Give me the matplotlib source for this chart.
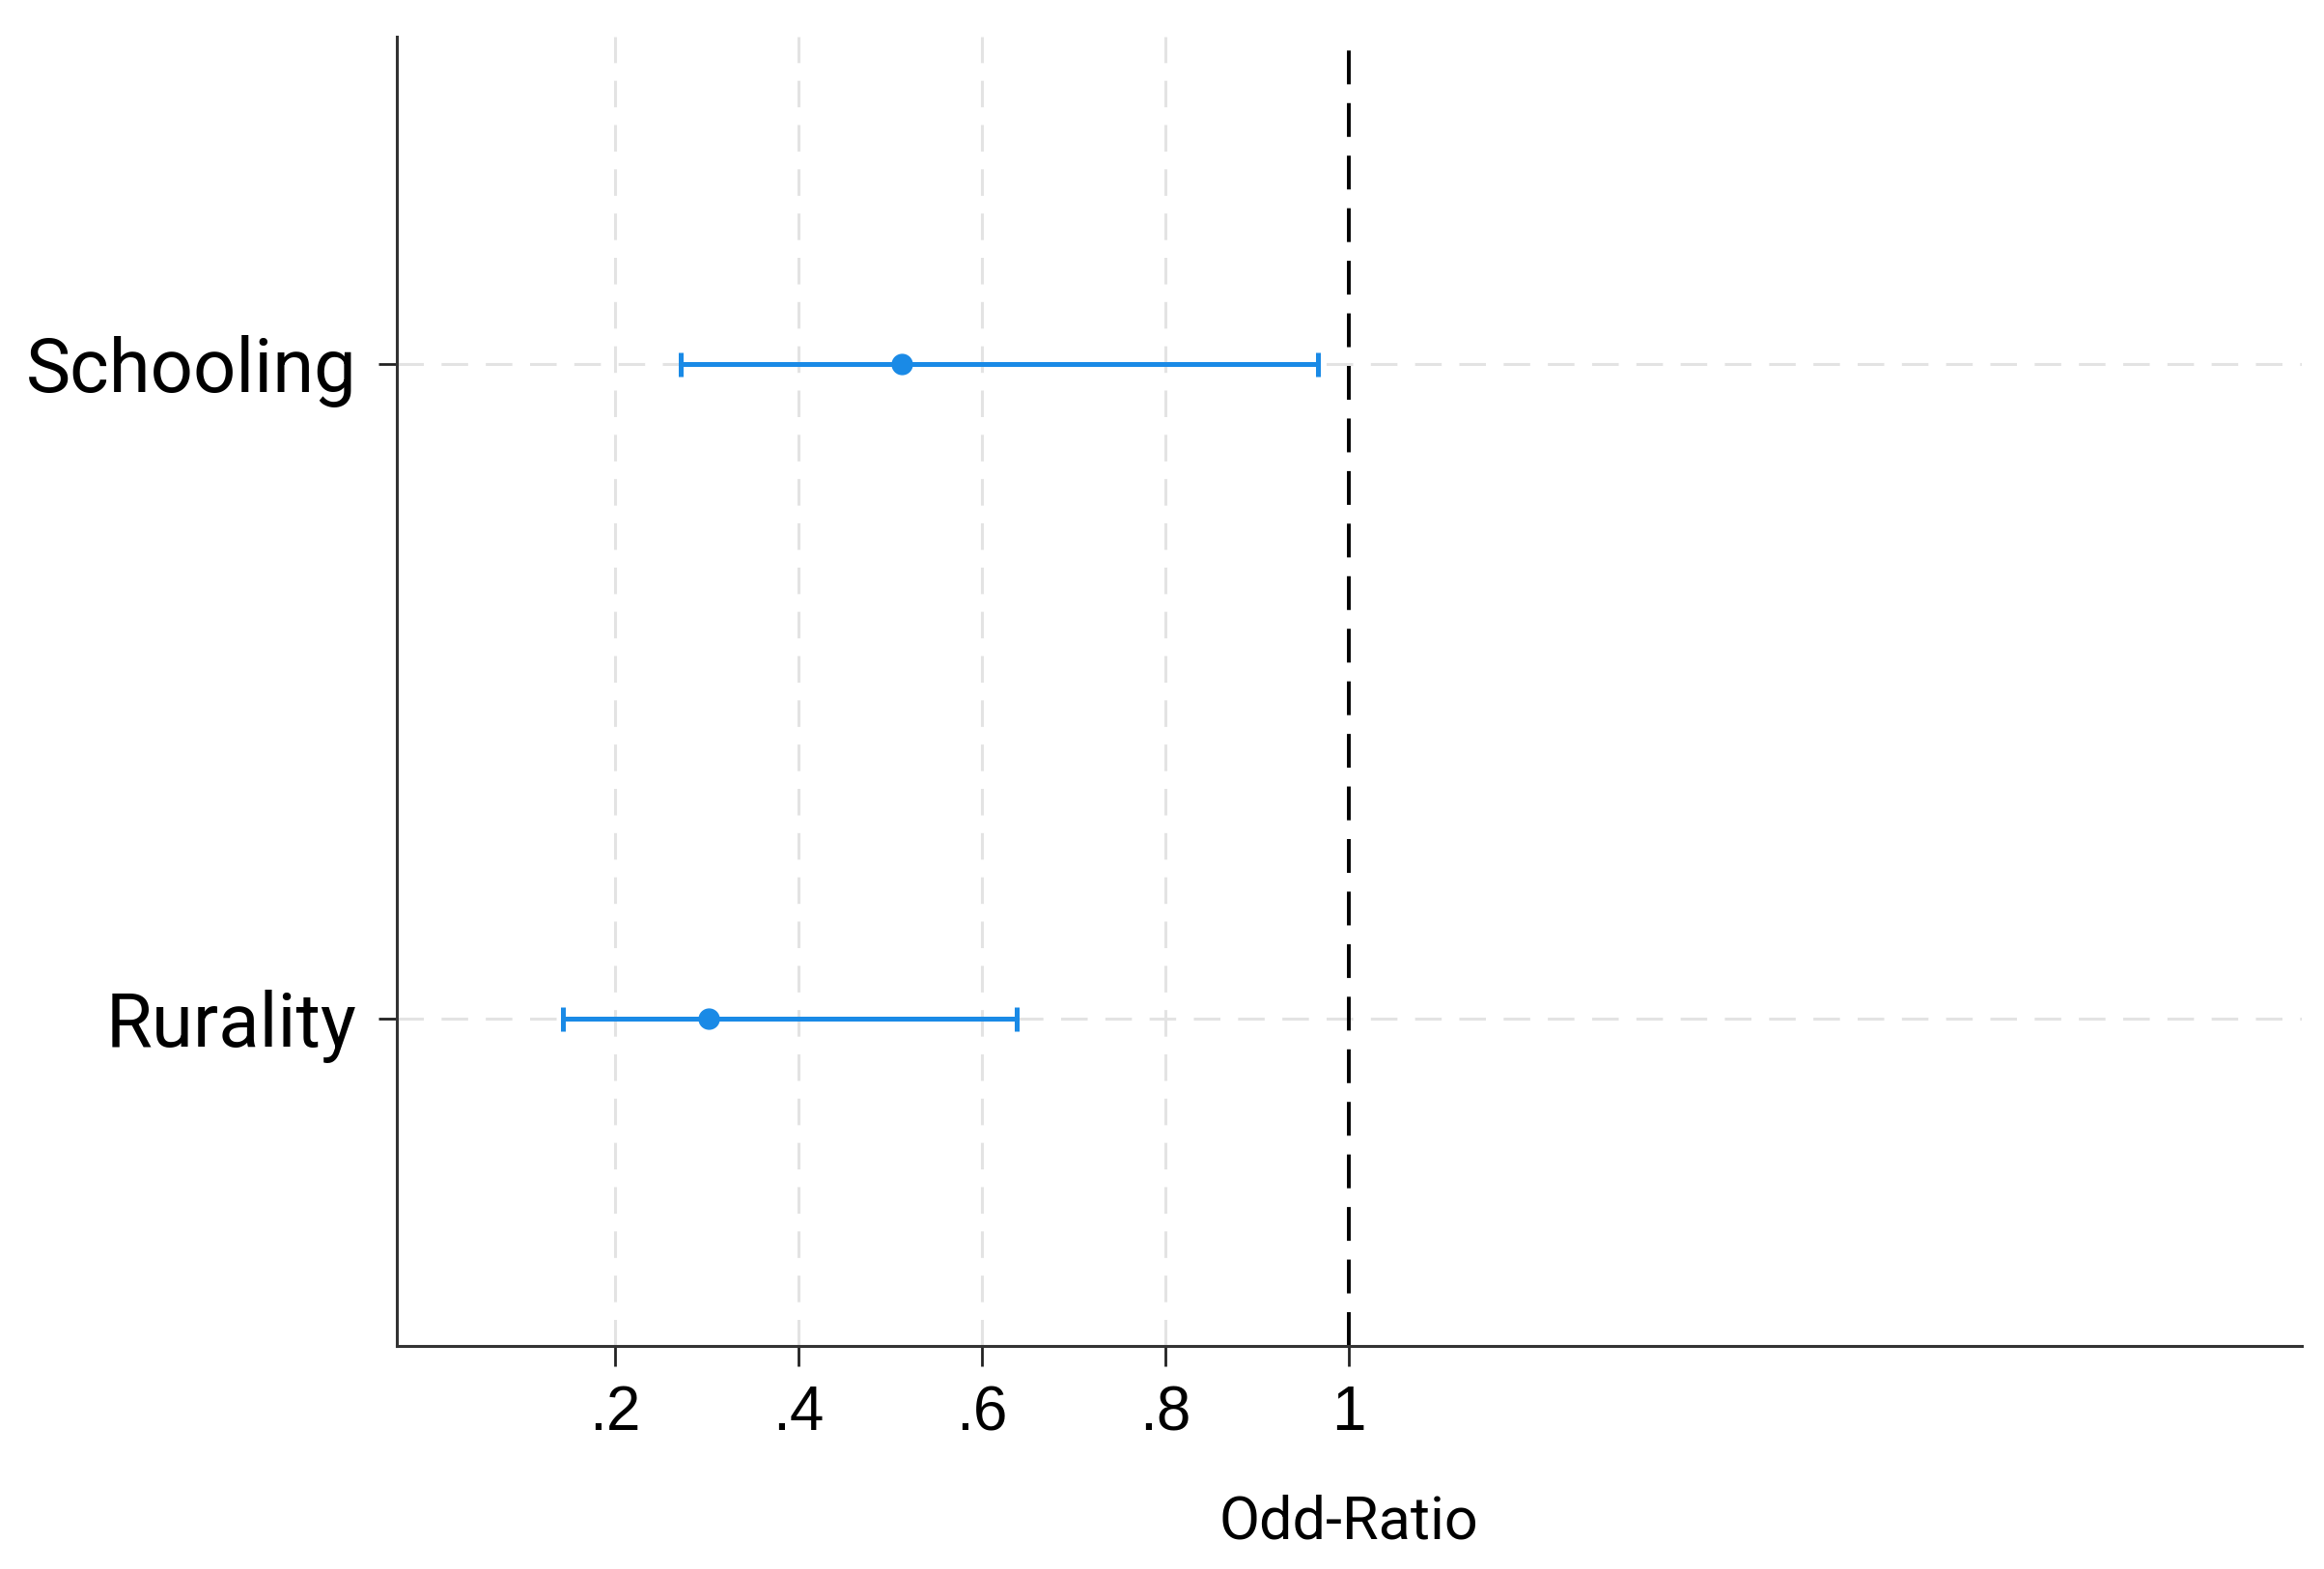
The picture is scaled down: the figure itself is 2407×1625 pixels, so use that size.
import matplotlib
matplotlib.use("Agg")
import matplotlib.pyplot as plt

labels = ["Rurality", "Schooling"]
odds = [0.302, 0.512]
ci_low = [0.143, 0.271]
ci_high = [0.638, 0.966]
xticks = [0.2, 0.4, 0.6, 0.8, 1.0]
xticklabels = [".2", ".4", ".6", ".8", "1"]

BLUE = "#1a8ae6"
GRID = "#e3e3e3"

fig = plt.figure(figsize=(24.07, 16.25), dpi=100, facecolor="white")
ax = fig.add_axes([0.1708, 0.1422, 0.8196, 0.8344])

ypos = [1, 2]
for x in xticks[:-1]:
    ax.axvline(x, color=GRID, lw=2.2, ls=(0, (9, 6)), zorder=0)
for y in ypos:
    ax.axhline(y, color=GRID, lw=2.2, ls=(0, (9, 6)), zorder=0)
ax.axvline(1.0, color="black", lw=2.8, ls=(0, (9, 5)), zorder=1)

# point estimate with 95% CI
xerr = [[o - l for o, l in zip(odds, ci_low)], [h - o for o, h in zip(odds, ci_high)]]
ax.errorbar(odds, ypos, xerr=xerr, fmt="o", color=BLUE, ms=15, elinewidth=3.6,
            capsize=9, capthick=3.6, zorder=3)

ax.set_xlim(-0.038, 2.039)
ax.set_ylim(0.5, 2.5)
ax.set_xticks(xticks)
ax.set_xticklabels(xticklabels, fontsize=46, family="Liberation Sans")
ax.set_yticks(ypos)
ax.set_yticklabels(labels, fontsize=56, family="Roboto")
ax.tick_params(axis="x", length=15, width=2, pad=14, colors="#222222", labelcolor="black")
ax.tick_params(axis="y", length=14, width=2, pad=16, colors="#222222", labelcolor="black")
for s in ["top", "right"]:
    ax.spines[s].set_visible(False)
for s in ["left", "bottom"]:
    ax.spines[s].set_color("#333333")
    ax.spines[s].set_linewidth(2.2)

ax.set_xlabel("Odd-Ratio", fontsize=44, family="Roboto")
ax.xaxis.label.set_va("center")
ax.xaxis.set_label_coords((1.0 + 0.038) / 2.077, -0.135)

fig.savefig("out.png", dpi=100, facecolor="white")
